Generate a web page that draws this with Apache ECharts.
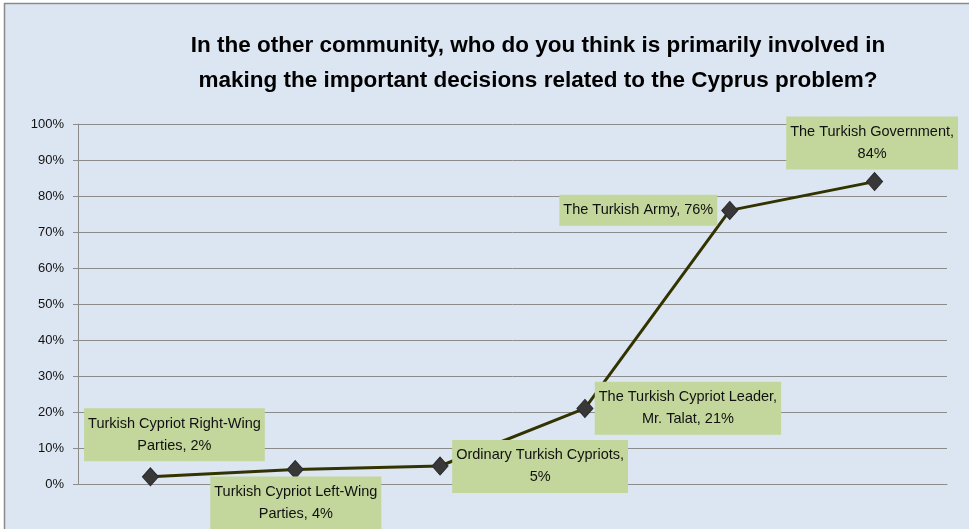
<!DOCTYPE html>
<html><head><meta charset="utf-8">
<script src="https://cdn.jsdelivr.net/npm/echarts@6/dist/echarts.min.js"></script>
<style>html,body{margin:0;padding:0;background:#fff}#c{width:969px;height:529px}</style>
</head><body><div id="c"></div>
<script>
const titleText = "In the other community, who do you think is primarily involved in\nmaking the important decisions related to the Cyprus problem?";
const categories = ["Turkish Cypriot Right-Wing Parties", "Turkish Cypriot Left-Wing Parties", "Ordinary Turkish Cypriots", "The Turkish Cypriot Leader, Mr. Talat", "The Turkish Army", "The Turkish Government"];
const labelTexts = ["Turkish Cypriot Right-Wing\nParties, 2%", "Turkish Cypriot Left-Wing\nParties, 4%", "Ordinary Turkish Cypriots,\n5%", "The Turkish Cypriot Leader,\nMr. Talat, 21%", "The Turkish Army, 76%", "The Turkish Government,\n84%"];
const values = [2, 4, 5, 21, 76, 84];
const yTicks = [0, 10, 20, 30, 40, 50, 60, 70, 80, 90, 100];

// label box centre offsets from the marker centre (pixels)
const labelShift = [[24.5, -41.5], [1, 34], [100.5, 1], [103.5, 0.5], [-91, 0.5], [-2, -38]];
const SYM = [16, 18];

const chart = echarts.init(document.getElementById('c'), null, {renderer: 'canvas'});
chart.setOption({
  backgroundColor: '#ffffff',
  animation: false,
  graphic: [{
    type: 'rect', z: -10, silent: true,
    shape: {x: 4.5, y: 3.5, width: 980, height: 540},
    style: {fill: '#dce6f2', stroke: '#8a8a8a', lineWidth: 1.5}
  }],
  title: {
    text: titleText, left: 533, top: 23, textAlign: 'center',
    textStyle: {fontFamily: 'Liberation Sans', fontWeight: 'bold', fontSize: 22.5, color: '#000', lineHeight: 35}
  },
  grid: {left: 78, right: 22, top: 124, bottom: 45, containLabel: false},
  xAxis: {
    type: 'category', data: categories, boundaryGap: true,
    axisLine: {show: true, lineStyle: {color: '#8c8c8c', width: 1}},
    axisTick: {show: false}, axisLabel: {show: false}, splitLine: {show: false}
  },
  yAxis: {
    type: 'value', min: 0, max: 100, interval: 10,
    axisLine: {show: true, lineStyle: {color: '#8c8c8c', width: 1}},
    axisTick: {show: true, length: 5, lineStyle: {color: '#8c8c8c'}},
    axisLabel: {formatter: v => yTicks.includes(v) ? v + '%' : '', margin: 14, fontFamily: 'Liberation Sans', fontSize: 13, color: '#111'},
    splitLine: {show: true, lineStyle: {color: '#8c8c8c', width: 1}}
  },
  series: [{
    type: 'line',
    data: values.map((v, i) => ({
      value: v,
      label: {
        show: true,
        formatter: labelTexts[i],
        position: [SYM[0] / 2 + labelShift[i][0], SYM[1] / 2 + labelShift[i][1]],
        align: 'center', verticalAlign: 'middle',
        backgroundColor: '#c3d69b',
        padding: [5, 4, 4, 4],
        fontFamily: 'Liberation Sans', fontSize: 14.5, lineHeight: 22, color: '#111'
      }
    })),
    symbol: 'diamond', symbolSize: SYM,
    itemStyle: {color: '#383838', borderColor: '#2a2a2a', borderWidth: 1},
    lineStyle: {color: '#333300', width: 3},
    z: 3
  }]
});
</script></body></html>
